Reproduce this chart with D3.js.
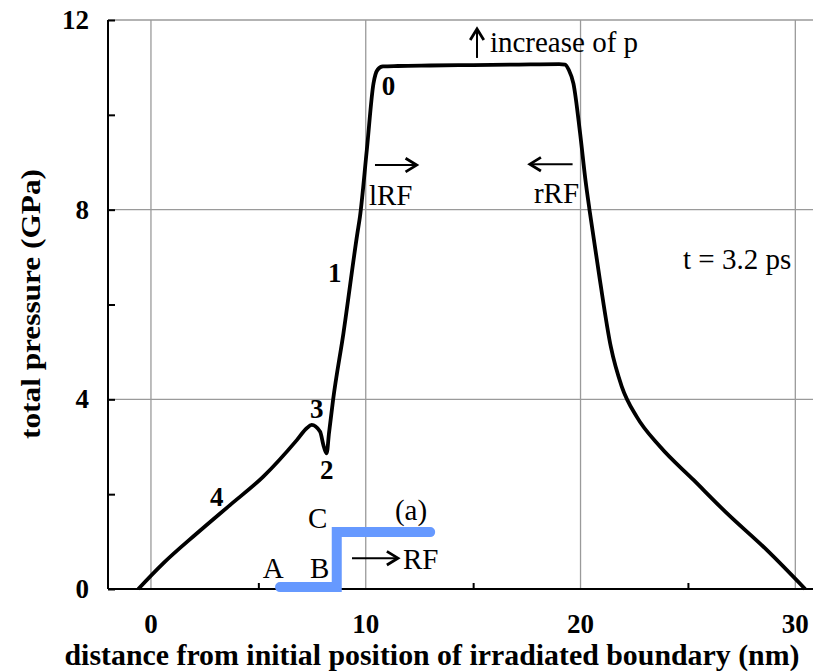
<!DOCTYPE html>
<html><head><meta charset="utf-8">
<script src="https://cdn.jsdelivr.net/npm/d3@7"></script>
<style>
html,body{margin:0;padding:0;background:#fff;}
svg{display:block;}
</style></head>
<body>
<svg id="chart" width="813" height="671" font-family="'Liberation Serif', Tinos, 'Times New Roman', 'DejaVu Serif', serif"></svg>
<script>
// ---- data ----
const curveX = [-0.59,0.57,2.13,3.68,5.23,6.79,7.25,7.48,7.87,8.05,8.18,8.29,8.48,8.96,9.61,9.73,10.05,10.36,10.55,10.8,11.5,13,15,17,19.0,19.28,19.45,19.67,19.98,20.23,20.42,20.9,21.41,21.92,22.62,23.71,25.26,26.81,28.68,30.46];
const curveY = [0,0.54,1.17,1.77,2.37,3.14,3.39,3.46,3.32,3.0,2.86,3.29,3.99,5.39,7.5,7.85,9.26,10.66,10.95,11.02,11.03,11.04,11.05,11.06,11.07,11.06,10.95,10.66,9.61,8.62,7.99,6.52,5.11,4.27,3.63,3.0,2.30,1.6,0.82,0];
const stepX = [6.01,8.65,8.65,13.0];
const stepY = [0.04,0.04,1.2,1.2];
const xMajorTicks = [0,10,20,30];
const xMinorTicks = [5,15,25];
const yTicks = [0,2,4,6,8,10,12];
const yTickLabels = [0,4,8,12];
const yGrid = [4,8,12];
const xTitle = "distance from initial position of irradiated boundary (nm)";
const yTitle = "total pressure (GPa)";
const pointLabels = ["0","1","2","3","4"];
const pointLabelX = [10.75,8.24,7.87,7.40,2.75];
const pointLabelY = [10.42,6.47,2.32,3.61,1.75];
const noteTexts = ["increase of p","lRF","rRF","RF","A","B","C","(a)","t = 3.2 ps"];
const noteX = [15.78,10.15,17.83,11.73,5.21,7.40,7.31,11.36,24.77];
const noteY = [11.32,8.10,8.14,0.42,0.23,0.23,1.29,1.46,6.75];
// arrows: [x1,y1,x2,y2] in data units (tail -> head)
const arrows = [[15.18,11.2,15.18,11.81],[10.43,8.94,12.37,8.94],[19.63,8.96,17.64,8.96],[9.36,0.65,11.5,0.65]];

// ---- scales ----
const svg = d3.select("#chart");
const x = d3.scaleLinear().domain([-2,31]).range([108,816.8]);
const y = d3.scaleLinear().domain([0,12]).range([589,20]);

// grid
svg.append("g").selectAll("line").data(xMajorTicks).join("line")
  .attr("x1",d=>x(d)).attr("x2",d=>x(d)).attr("y1",y(0)).attr("y2",y(12))
  .attr("stroke","#9a9a9a").attr("stroke-width",1.3);
svg.append("g").selectAll("line").data(yGrid).join("line")
  .attr("x1",x(-2)).attr("x2",813).attr("y1",d=>y(d)).attr("y2",d=>y(d))
  .attr("stroke","#9a9a9a").attr("stroke-width",1.3);

// axes
const gx = svg.append("g").attr("transform",`translate(0,${y(0)})`)
  .call(d3.axisBottom(x).tickValues(xMinorTicks).tickSize(-6).tickFormat(""));
gx.select(".domain").remove();
gx.selectAll("line").attr("stroke","#000").attr("stroke-width",2);
svg.append("line").attr("x1",x(-2)).attr("x2",813).attr("y1",y(0)).attr("y2",y(0))
  .attr("stroke","#000").attr("stroke-width",2);

const gy = svg.append("g").attr("transform",`translate(${x(-2)},0)`)
  .call(d3.axisLeft(y).tickValues(yTicks).tickSize(-7).tickFormat(""));
gy.select(".domain").remove();
gy.selectAll("line").attr("stroke","#000").attr("stroke-width",2);
svg.append("line").attr("x1",x(-2)).attr("x2",x(-2)).attr("y1",y(12)).attr("y2",y(0))
  .attr("stroke","#000").attr("stroke-width",2);

// tick labels
svg.append("g").selectAll("text").data(xMajorTicks).join("text")
  .attr("x",d=>x(d)).attr("y",y(0)+44).attr("text-anchor","middle")
  .attr("font-size",27).attr("font-weight","bold").text(d=>d);
svg.append("g").selectAll("text").data(yTickLabels).join("text")
  .attr("x",x(-2)-19).attr("y",d=>y(d)+9).attr("text-anchor","end")
  .attr("font-size",27).attr("font-weight","bold").text(d=>d);

// titles
svg.append("text").attr("x",432).attr("y",665).attr("text-anchor","middle")
  .attr("font-size",29).attr("font-weight","bold")
  .attr("textLength",735).attr("lengthAdjust","spacingAndGlyphs").text(xTitle);
svg.append("text").attr("transform","translate(40,304) rotate(-90)")
  .attr("text-anchor","middle").attr("font-size",28).attr("font-weight","bold")
  .attr("textLength",270).attr("lengthAdjust","spacingAndGlyphs").text(yTitle);

// blue step
const stepData = stepX.map((d,i)=>[d,stepY[i]]);
svg.append("path").datum(stepData)
  .attr("d",d3.line().x(d=>x(d[0])).y(d=>y(d[1])))
  .attr("fill","none").attr("stroke","#6699ff").attr("stroke-width",10)
  .attr("stroke-linecap","round").attr("stroke-linejoin","miter");

// main curve
const curveData = curveX.map((d,i)=>[d,curveY[i]]);
svg.append("path").datum(curveData)
  .attr("d",d3.line().x(d=>x(d[0])).y(d=>y(d[1])).curve(d3.curveMonotoneX))
  .attr("fill","none").attr("stroke","#000").attr("stroke-width",3.8)
  .attr("stroke-linejoin","round");

// point labels
svg.append("g").selectAll("text").data(pointLabels).join("text")
  .attr("x",(d,i)=>x(pointLabelX[i])).attr("y",(d,i)=>y(pointLabelY[i]))
  .attr("font-size",27).attr("font-weight","bold").text(d=>d);

// notes
svg.append("g").selectAll("text").data(noteTexts).join("text")
  .attr("x",(d,i)=>x(noteX[i])).attr("y",(d,i)=>y(noteY[i]))
  .attr("font-size",29).text(d=>d);

// arrows
const ag = svg.append("g").attr("stroke","#000").attr("fill","none").attr("stroke-width",2);
arrows.forEach(a=>{
  const x1=x(a[0]),y1=y(a[1]),x2=x(a[2]),y2=y(a[3]);
  const ang=Math.atan2(y2-y1,x2-x1), L=13, W=0.55;
  ag.append("line").attr("x1",x1).attr("y1",y1).attr("x2",x2).attr("y2",y2);
  const p1=[x2-L*Math.cos(ang-W),y2-L*Math.sin(ang-W)];
  const p2=[x2-L*Math.cos(ang+W),y2-L*Math.sin(ang+W)];
  ag.append("path").attr("d",`M${p1[0]},${p1[1]}L${x2},${y2}L${p2[0]},${p2[1]}`)
    .attr("stroke-width",2.8).attr("stroke-linejoin","miter");
});
</script>
</body></html>
